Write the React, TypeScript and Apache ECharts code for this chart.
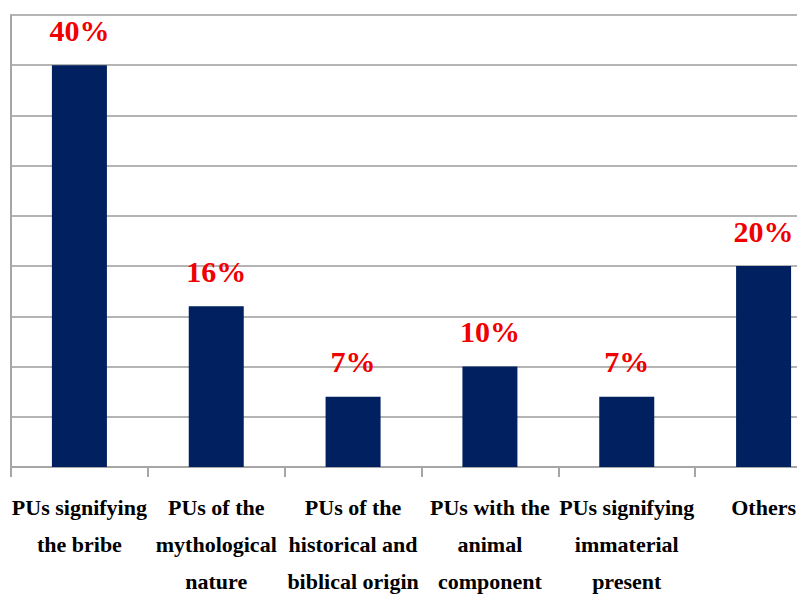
import React, { useEffect, useRef } from "react";
import * as echarts from "echarts";

const categories = [
  "PUs signifying\nthe bribe",
  "PUs of the\nmythological\nnature",
  "PUs of the\nhistorical and\nbiblical origin",
  "PUs with the\nanimal\ncomponent",
  "PUs signifying\nimmaterial\npresent",
  "Others",
];
const values = [40, 16, 7, 10, 7, 20];
const yMin = 0;
const yMax = 45;
const yInterval = 5;

const serif = "Liberation Serif";

export default function App() {
  const ref = useRef<HTMLDivElement>(null);
  useEffect(() => {
    if (!ref.current) return;
    const chart = echarts.init(ref.current, null, { renderer: "svg" });
    chart.setOption({
      animation: false,
      backgroundColor: "#ffffff",
      grid: {
        left: 11,
        top: 15,
        width: 821,
        height: 452,
        containLabel: false,
        outerBoundsMode: "none",
      },
      xAxis: {
        type: "category",
        data: categories,
        axisLine: { show: true, lineStyle: { color: "#a6a6a6", width: 2 } },
        axisTick: { show: true, length: 10, lineStyle: { color: "#a6a6a6", width: 2 } },
        axisLabel: {
          interval: 0,
          margin: 22,
          color: "#000000",
          fontFamily: serif,
          fontWeight: "bold",
          fontSize: 22,
          lineHeight: 37,
          align: "center",
        },
      },
      yAxis: {
        type: "value",
        min: yMin,
        max: yMax,
        interval: yInterval,
        axisLine: { show: true, lineStyle: { color: "#a6a6a6", width: 2 } },
        axisTick: { show: false },
        axisLabel: { show: false },
        splitLine: { show: true, lineStyle: { color: "#b4b4b4", width: 2 } },
      },
      series: [
        {
          type: "bar",
          data: values,
          barWidth: 55,
          itemStyle: { color: "#002060" },
          label: {
            show: true,
            position: "top",
            distance: 20,
            formatter: "{c}%",
            color: "#f00000",
            fontFamily: serif,
            fontWeight: "bold",
            fontSize: 30,
          },
        },
      ],
    });
    return () => chart.dispose();
  }, []);
  return (
    <div
      style={{
        position: "fixed",
        left: 0,
        top: 0,
        width: 797,
        height: 597,
        overflow: "hidden",
        background: "#ffffff",
      }}
    >
      <div ref={ref} style={{ width: 840, height: 597 }} />
    </div>
  );
}
